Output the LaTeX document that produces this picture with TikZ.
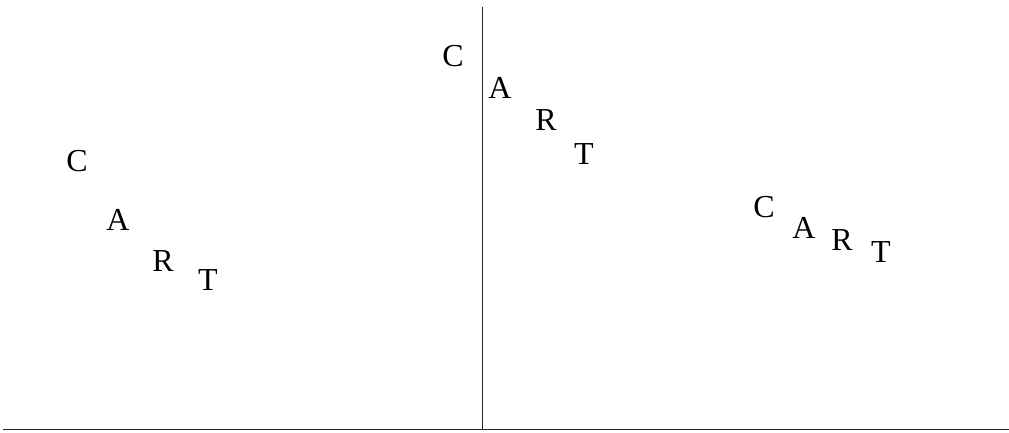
\documentclass[tikz,border=0pt]{standalone}
\usepackage{fontspec}
\setmainfont{Liberation Serif}
\usepackage{tikz}
\usetikzlibrary{positioning}

\begin{document}
\begin{tikzpicture}[x=0.75pt, y=-0.75pt, every node/.style={font=\fontsize{24}{28}\selectfont}, letter/.style={inner sep=0pt, anchor=center}, axis/.style={draw=black!85, line width=0.75pt}]
\useasboundingbox (0,0) rectangle (1009,432);
% axes
\coordinate (top) at (482,7);
\coordinate (origin) at (482,429);
\coordinate (left) at (3,429);
\coordinate (right) at (1009,429);
\draw[axis] (top) -- (origin);
\draw[axis] (left) -- (right);
% left word
\node[letter] (c1) at (77,161) {C};
\node[letter] (a1) at (118,220) {A};
\node[letter] (r1) at (163,261) {R};
\node[letter] (t1) at (208,280) {T};
% middle word
\node[letter] (c2) at (453,56) {C};
\node[letter] (a2) at (500,88) {A};
\node[letter] (r2) at (546,120) {R};
\node[letter] (t2) at (584,154) {T};
% right word
\node[letter] (c3) at (764,207) {C};
\node[letter] (a3) at (804,228) {A};
\node[letter] (r3) at (842,240) {R};
\node[letter] (t3) at (881,252) {T};
\end{tikzpicture}
\end{document}
